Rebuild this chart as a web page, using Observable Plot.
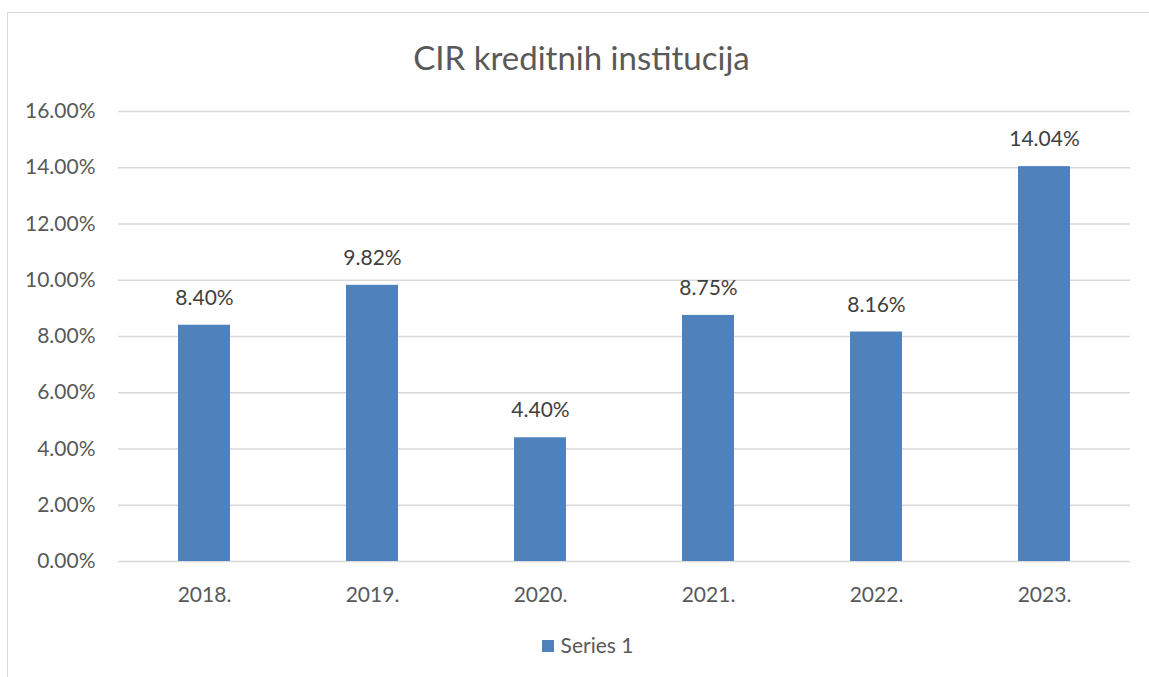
<!DOCTYPE html>
<html>
<head>
<meta charset="utf-8">
<script src="https://cdn.jsdelivr.net/npm/d3@7"></script>
<script src="https://cdn.jsdelivr.net/npm/@observablehq/plot@0.6"></script>
<style>
  html, body { margin: 0; padding: 0; background: #fff; }
  body { width: 1149px; height: 677px; position: relative; overflow: hidden; font-family: Lato, "Open Sans", sans-serif; }
  #frame { position: absolute; left: 7px; top: 12px; width: 1160px; height: 700px; border-left: 1.5px solid #d9d9d9; border-top: 1.5px solid #d9d9d9; box-sizing: border-box; }
  #title { position: absolute; left: 7px; top: 0; width: 1149px; height: 90px; text-align: center; line-height: 114px; font-size: 33px; color: #595959; }
  #chart { position: absolute; left: 0; top: 90px; }
  #legend { position: absolute; left: 13px; top: 620px; width: 1149px; text-align: center; font-size: 21px; color: #595959; line-height: 50px; }
  #legend .sw { display: inline-block; width: 12px; height: 12px; background: #4f81bd; margin-right: 7px; vertical-align: 1px; }
</style>
</head>
<body>
<div id="frame"></div>
<div id="title">CIR kreditnih institucija</div>
<div id="chart"></div>
<div id="legend"><span class="sw"></span>Series 1</div>
<script>
const years = ["2018.", "2019.", "2020.", "2021.", "2022.", "2023."];
const values = [0.0840, 0.0982, 0.0440, 0.0875, 0.0816, 0.1404];
const yTicks = [0, 0.02, 0.04, 0.06, 0.08, 0.10, 0.12, 0.14, 0.16];
const seriesName = "Series 1";

const data = years.map((y, i) => ({year: y, value: values[i], series: seriesName}));
const pct = d3.format(".2%");

const chart = Plot.plot({
  width: 1149,
  height: 530,
  marginTop: 21,
  marginBottom: 59,
  marginLeft: 118,
  marginRight: 19,
  style: {fontFamily: "Lato, 'Open Sans', sans-serif", fontSize: "21px", color: "#595959", background: "transparent"},
  x: {domain: years, paddingInner: 0.69, paddingOuter: 0.345, label: null},
  y: {domain: [0, 0.16], ticks: yTicks, label: null, tickFormat: pct},
  marks: [
    Plot.ruleY(yTicks, {stroke: "#d9d9d9", strokeWidth: 1.5}),
    Plot.barY(data, {x: "year", y: "value", fill: "#4f81bd"}),
    Plot.text(data, {x: "year", y: "value", text: d => pct(d.value), dy: -27, fill: "#404040", fontSize: 21}),
    Plot.axisY({ticks: yTicks, tickFormat: pct, tickSize: 0, tickPadding: 23, fontSize: 21, fill: "#595959"}),
    Plot.axisX({tickSize: 0, tickPadding: 26, fontSize: 21, fill: "#595959"})
  ]
});
document.getElementById("chart").appendChild(chart);
</script>
</body>
</html>
